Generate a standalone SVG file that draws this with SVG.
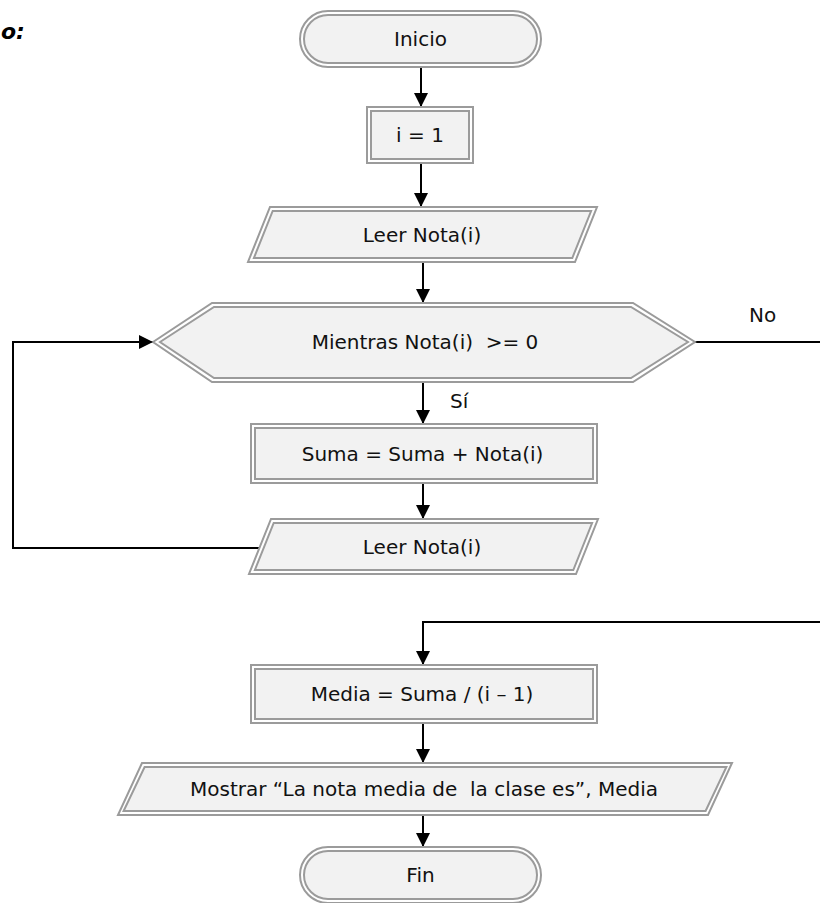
<svg xmlns="http://www.w3.org/2000/svg" width="820" height="903" viewBox="0 0 820 903">
<style>
.o{fill:#ffffff;stroke:#9b9b9b;stroke-width:2}
.i{fill:#f2f2f2;stroke:#9b9b9b;stroke-width:2}
.t{font-family:"DejaVu Sans",Verdana,sans-serif;font-size:20px;fill:#111;text-anchor:middle;white-space:pre}
.l{font-family:"DejaVu Sans",Verdana,sans-serif;font-size:20px;fill:#111;white-space:pre}
.c{fill:none;stroke:#000;stroke-width:2}
</style>
<defs>
<marker id="ah" markerUnits="userSpaceOnUse" markerWidth="14" markerHeight="14" refX="14" refY="7" orient="auto">
<path d="M0,0 L14,7 L0,14 z" fill="#000"/>
</marker>
</defs>
<text x="1" y="39" style="font-family:'DejaVu Sans',Verdana,sans-serif;font-size:22px;font-weight:bold;font-style:italic;fill:#000">o:</text>
<g id="connectors">
<line class="c" x1="421" y1="67" x2="421" y2="107" marker-end="url(#ah)"/>
<line class="c" x1="421" y1="163" x2="421" y2="207" marker-end="url(#ah)"/>
<line class="c" x1="423" y1="262" x2="423" y2="303" marker-end="url(#ah)"/>
<line class="c" x1="423" y1="382" x2="423" y2="424" marker-end="url(#ah)"/>
<line class="c" x1="423" y1="483" x2="423" y2="519" marker-end="url(#ah)"/>
<polyline class="c" points="259,548 13,548 13,342 153,342" marker-end="url(#ah)"/>
<line class="c" x1="695" y1="342" x2="820" y2="342"/>
<polyline class="c" points="820,622 423,622 423,665" marker-end="url(#ah)"/>
<line class="c" x1="423" y1="723" x2="423" y2="763" marker-end="url(#ah)"/>
<line class="c" x1="423" y1="815" x2="423" y2="847" marker-end="url(#ah)"/>
<text class="l" x="450" y="408">Sí</text>
<text class="l" x="749" y="322">No</text>
</g>
<g id="inicio">
<rect class="o" x="300" y="11" width="241" height="56" rx="28"/>
<rect class="i" x="304" y="15" width="233" height="48" rx="24"/>
<text class="t" x="420.5" y="46">Inicio</text>
</g>
<g id="init-i">
<rect class="o" x="367" y="107" width="106" height="56"/>
<rect class="i" x="371" y="111" width="98" height="48"/>
<text class="t" x="420" y="142">i = 1</text>
</g>
<g id="leer1">
<polygon class="o" points="270,207 597,207 575,262 248,262"/>
<polygon class="i" points="272.7,211 591.1,211 572.3,258 253.9,258"/>
<text class="t" x="422" y="241.5">Leer Nota(i)</text>
</g>
<g id="mientras">
<polygon class="o" points="153,342 212,303 633,303 695,342 633,382 212,382"/>
<polygon class="i" points="160,342 214,307 631,307 688,342 631,378 214,378"/>
<text class="t" x="425" y="349">Mientras Nota(i)  >= 0</text>
</g>
<g id="suma">
<rect class="o" x="251" y="424" width="346" height="59"/>
<rect class="i" x="255" y="428" width="338" height="51"/>
<text class="t" x="422.5" y="460.5">Suma = Suma + Nota(i)</text>
</g>
<g id="leer2">
<polygon class="o" points="271,519 598,519 576,574 249,574"/>
<polygon class="i" points="273.7,523 592.1,523 573.3,570 254.9,570"/>
<text class="t" x="422" y="553.5">Leer Nota(i)</text>
</g>
<g id="media">
<rect class="o" x="251" y="665" width="346" height="58"/>
<rect class="i" x="255" y="669" width="338" height="50"/>
<text class="t" x="422" y="701">Media = Suma / (i – 1)</text>
</g>
<g id="mostrar">
<polygon class="o" points="142,763 732,763 708,815 118,815"/>
<polygon class="i" points="144.6,767 726.4,767 705.6,811 123.6,811"/>
<text class="t" x="424" y="796">Mostrar “La nota media de  la clase es”, Media</text>
</g>
<g id="fin">
<rect class="o" x="300" y="847" width="241" height="56" rx="28"/>
<rect class="i" x="304" y="851" width="233" height="48" rx="24"/>
<text class="t" x="420.5" y="882">Fin</text>
</g>
</svg>
